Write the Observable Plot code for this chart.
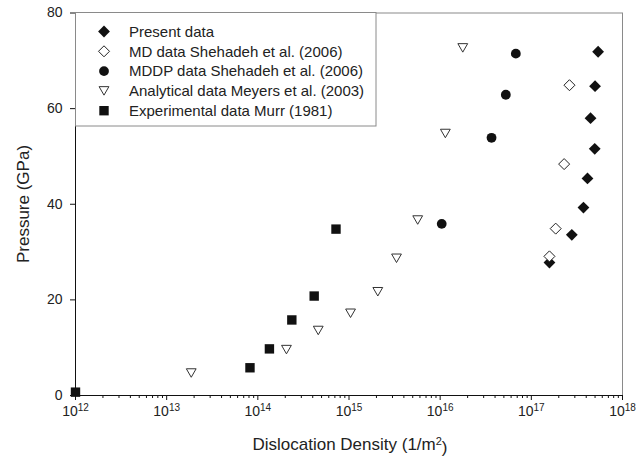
<!DOCTYPE html>
<html><head><meta charset="utf-8">
<script src="https://cdn.jsdelivr.net/npm/d3@7"></script>
<script src="https://cdn.jsdelivr.net/npm/@observablehq/plot@0.6"></script>
<style>body{margin:0;background:#fff} #chart{width:638px;height:466px}</style>
</head><body><div id="chart"></div>
<script>
// ---- data ----
const presentX = [5.4e17, 5.0e17, 4.46e17, 4.96e17, 4.13e17, 3.73e17, 2.78e17, 1.58e17];
const presentY = [71.9, 64.7, 58.0, 51.6, 45.4, 39.3, 33.6, 27.8];
const mdX = [2.62e17, 2.29e17, 1.85e17, 1.58e17];
const mdY = [64.9, 48.4, 34.9, 29.1];
const mddpX = [6.76e16, 5.25e16, 3.66e16, 1.04e16];
const mddpY = [71.5, 62.9, 53.9, 35.9];
const analyticalX = [1.77e16, 1.14e16, 5.67e15, 3.32e15, 2.07e15, 1.04e15, 4.6e14, 2.06e14, 1.86e13];
const analyticalY = [72.7, 54.8, 36.7, 28.7, 21.7, 17.2, 13.6, 9.6, 4.7];
const expX = [1e12, 8.2e13, 1.34e14, 2.36e14, 4.15e14, 7.2e14];
const expY = [0.7, 5.8, 9.75, 15.8, 20.8, 34.8];

const seriesNames = [
  "Present data",
  "MD data Shehadeh et al. (2006)",
  "MDDP data Shehadeh et al. (2006)",
  "Analytical data Meyers et al. (2003)",
  "Experimental data Murr (1981)"
];
const xTickExponents = [12, 13, 14, 15, 16, 17, 18];
const yTicks = [0, 20, 40, 60, 80];
const xTitle = "Dislocation Density (1/m";
const yTitle = "Pressure (GPa)";

// ---- symbols ----
const diamondSym = {draw(ctx, size) { const r = Math.sqrt(size / Math.PI) * 1.18; ctx.moveTo(0, -r); ctx.lineTo(r, 0); ctx.lineTo(0, r); ctx.lineTo(-r, 0); ctx.closePath(); }};
const diamondOpenSym = {draw(ctx, size) { const r = Math.sqrt(size / Math.PI) * 1.1; ctx.moveTo(0, -r); ctx.lineTo(r, 0); ctx.lineTo(0, r); ctx.lineTo(-r, 0); ctx.closePath(); }};
const squareSym = {draw(ctx, size) { const h = Math.sqrt(size / Math.PI) * 0.94; ctx.rect(-h, -h, 2 * h, 2 * h); }};
const triDownSym = {draw(ctx, size) { const r = Math.sqrt(size / Math.PI); const w = r * 0.98, h = r * 0.85; ctx.moveTo(0, h); ctx.lineTo(w, -h); ctx.lineTo(-w, -h); ctx.closePath(); }};
const circleSym = {draw(ctx, size) { const r = Math.sqrt(size / Math.PI) * 0.98; ctx.moveTo(r, 0); ctx.arc(0, 0, r, 0, 2 * Math.PI); }};

const symbolStyles = [
  {symbol: diamondSym, fill: "#111", stroke: "none"},
  {symbol: diamondOpenSym, fill: "white", stroke: "#222"},
  {symbol: circleSym, fill: "#111", stroke: "none"},
  {symbol: triDownSym, fill: "white", stroke: "#333"},
  {symbol: squareSym, fill: "#111", stroke: "none"}
];

const toRows = (xs, ys) => xs.map((x, i) => ({x, y: ys[i]}));
const seriesRows = [
  toRows(presentX, presentY),
  toRows(mdX, mdY),
  toRows(mddpX, mddpY),
  toRows(analyticalX, analyticalY),
  toRows(expX, expY)
];

const majorTicks = xTickExponents.map(e => Math.pow(10, e));
const minorTicks = [];
for (const e of xTickExponents.slice(0, -1)) for (let k = 2; k <= 9; k++) minorTicks.push(k * Math.pow(10, e));

const dotMarks = seriesRows.map((rows, i) => Plot.dot(rows, {
  x: "x", y: "y", r: 5,
  symbol: () => symbolStyles[i].symbol,
  fill: symbolStyles[i].fill, stroke: symbolStyles[i].stroke, strokeWidth: 1
}));

const chart = Plot.plot({
  width: 638, height: 466,
  marginLeft: 75, marginRight: 16, marginTop: 12.5, marginBottom: 71,
  style: {fontFamily: "'Liberation Sans', Arial, sans-serif", fontSize: "14px", color: "#222", background: "white"},
  x: {type: "log", domain: [1e12, 1e18]},
  y: {domain: [0, 80]},
  symbol: {type: "identity"},
  marks: [
    Plot.frame({stroke: "#8a8a8a"}),
    Plot.axisY(yTicks, {tickSize: 5, tickPadding: 8, label: null, stroke: "#111"}),
    Plot.axisX(majorTicks, {tickSize: 5, tickPadding: 6, label: null, stroke: "#111",
      tickFormat: d => "10^" + Math.round(Math.log10(d))}),
    Plot.axisX(minorTicks, {tickSize: 3, label: null, stroke: "#111", tickFormat: () => ""}),
    Plot.ruleX([1e12], {stroke: "#111"}),
    Plot.ruleY([0], {stroke: "#111"}),
    ...dotMarks
  ]
});

document.getElementById("chart").appendChild(chart);
const svg = d3.select(chart);

// superscript exponents in x tick labels
svg.selectAll("text").each(function() {
  const m = /^10\^(\d+)$/.exec(this.textContent);
  if (m) {
    const t = d3.select(this);
    t.text("");
    t.append("tspan").text("10");
    t.append("tspan").attr("dy", "-0.5em").attr("font-size", "10px").text(m[1]);
  }
});

// axis titles
svg.append("text").attr("x", 350).attr("y", 450).attr("text-anchor", "middle")
  .attr("font-size", "17px").attr("fill", "#222")
  .call(t => { t.append("tspan").text(xTitle); t.append("tspan").attr("dy", "-0.5em").attr("font-size", "11px").text("2"); t.append("tspan").attr("dy", "0.5em").text(")"); });
svg.append("text").attr("transform", "translate(29,204) rotate(-90)").attr("text-anchor", "middle")
  .attr("font-size", "17px").attr("fill", "#222").text(yTitle);

// legend
const lg = svg.append("g").attr("aria-label", "legend");
lg.append("rect").attr("x", 75.5).attr("y", 12.5).attr("width", 300.5).attr("height", 113.5)
  .attr("fill", "white").attr("stroke", "#8a8a8a");
seriesNames.forEach((name, i) => {
  const cy = 31.5 + i * 19.8;
  lg.append("path").attr("transform", `translate(104,${cy})`)
    .attr("d", d3.symbol(symbolStyles[i].symbol, Math.PI * 25)())
    .attr("fill", symbolStyles[i].fill).attr("stroke", symbolStyles[i].stroke);
  lg.append("text").attr("x", 129).attr("y", cy).attr("dy", "0.35em").attr("text-anchor", "start")
    .attr("font-size", "15px").attr("fill", "#222").text(name);
});
</script>
</body></html>
